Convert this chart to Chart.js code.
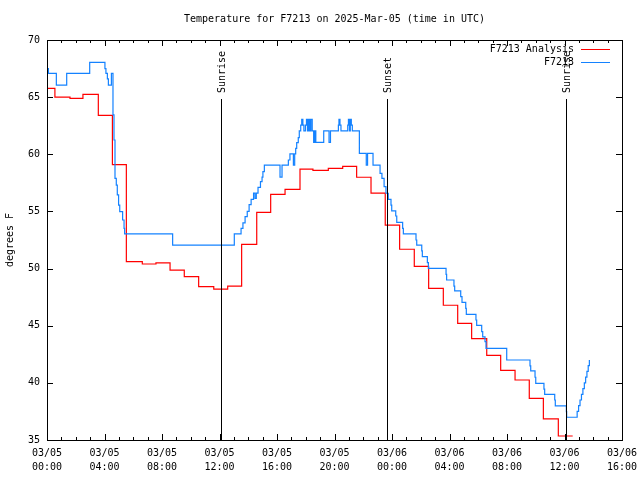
<!DOCTYPE html>
<html>
<head>
<meta charset="utf-8">
<title>Temperature for F7213</title>
<script src="https://cdn.jsdelivr.net/npm/chart.js@4.4.1/dist/chart.umd.min.js"></script>
<style>
  html, body { margin: 0; padding: 0; background: #fff; }
  canvas { display: block; }
</style>
</head>
<body>
<canvas id="chart" width="640" height="480"></canvas>
<script>
const titleText = 'Temperature for F7213 on 2025-Mar-05 (time in UTC)';
const seriesLabels = ['F7213 Analysis', 'F7213'];

// hours since 03/05 00:00 UTC
const analysisHours = [0, 0.55, 1.6, 2.5, 3.57, 4.55, 5.52, 6.63, 7.58, 8.56, 9.55, 10.55, 11.6, 12.57,
  13.54, 14.59, 15.56, 16.56, 17.6, 18.5, 19.57, 20.57, 21.54, 22.54, 23.53, 24.53, 25.55, 26.55,
  27.57, 28.57, 29.54, 30.59, 31.56, 32.56, 33.55, 34.53, 35.57, 36.57];
const analysisTemps = [65.77, 65.0, 64.9, 65.25, 63.4, 59.1, 50.6, 50.4, 50.49, 49.87, 49.3, 48.42, 48.2, 48.47,
  52.12, 54.92, 56.5, 56.93, 58.7, 58.6, 58.77, 58.95, 57.99, 56.61, 53.81, 51.69, 50.2, 48.27,
  46.79, 45.21, 43.87, 42.41, 41.1, 40.25, 38.65, 36.84, 35.35, 35.35];

const obsHours = [0, 0.1, 0.65, 1.37, 2.97, 4.03, 4.1, 4.2, 4.27, 4.48, 4.59, 4.66, 4.73, 4.82, 4.89, 4.98,
  5.06, 5.26, 5.36, 5.4, 8.74, 13.03, 13.5, 13.63, 13.78, 13.93, 14.06, 14.2, 14.37, 14.47, 14.56,
  14.68, 14.85, 14.96, 15.02, 15.12, 16.21, 16.35, 16.79, 16.9, 17.14, 17.23, 17.3, 17.37, 17.48,
  17.55, 17.65, 17.72, 17.8, 17.87, 17.98, 18.05, 18.12, 18.2, 18.28, 18.36, 18.45, 18.55, 18.62,
  18.7, 19.25, 19.62, 19.72, 20.27, 20.31, 20.38, 20.45, 20.92, 20.97, 21.04, 21.1, 21.17, 21.24,
  21.73, 22.21, 22.3, 22.68, 23.17, 23.3, 23.45, 23.58, 23.74, 23.93, 23.98, 24.26, 24.33, 24.74,
  24.79, 25.67, 25.72, 26.07, 26.11, 26.46, 26.53, 27.76, 27.8, 28.31, 28.36, 28.78, 28.87, 29.13,
  29.17, 29.84, 29.89, 30.24, 30.31, 30.47, 30.54, 31.98, 33.6, 33.65, 33.95, 34.0, 34.57, 34.62,
  35.32, 35.36, 36.13, 36.15, 36.78, 36.88, 36.98, 37.08, 37.18, 37.28, 37.38, 37.47, 37.56, 37.65, 37.73];
const obsTemps = [67.5, 67.08, 66.06, 67.08, 68.05, 67.5, 67.08, 66.6, 66.06, 67.08, 63.44, 61.25, 57.9, 57.3, 56.44, 55.56,
  54.98, 54.25, 53.52, 53.03, 52.06, 53.03, 53.52, 54.0, 54.55, 55.0, 55.6, 56.06, 56.6, 56.15, 56.6,
  57.1, 57.6, 58.0, 58.48, 59.06, 58.0, 59.06, 59.5, 60.03, 59.06, 60.03, 60.52, 61.02, 61.46,
  62.04, 62.56, 63.06, 62.56, 62.04, 62.56, 63.06, 62.04, 63.06, 62.04, 63.06, 62.04, 61.05, 62.04,
  61.05, 62.04, 61.05, 62.04, 62.56, 63.06, 62.56, 62.04, 62.56, 63.06, 62.04, 63.06, 62.56, 62.04,
  60.08, 59.06, 60.08, 59.06, 58.33, 57.9, 57.17, 56.59, 56.06, 55.56, 55.04, 54.6, 54.05, 53.52,
  53.03, 52.5, 52.06, 51.54, 51.04, 50.52, 50.02, 49.5, 49.0, 48.47, 48.04, 47.54, 47.05, 46.52,
  46.0, 45.5, 45.03, 44.48, 44.02, 43.6, 43.02, 42.0, 41.48, 41.04, 40.49, 39.96, 39.46, 39.0,
  38.5, 37.98, 37.48, 36.99, 36.99, 37.5, 38.0, 38.5, 39.0, 39.5, 40.0, 40.5, 41.0, 41.5, 42.0];

const eventLabels = ['Sunrise', 'Sunset', 'Sunrise'];
const eventHours = [12.1, 23.67, 36.13];

const xDayLabels = ['03/05', '03/05', '03/05', '03/05', '03/05', '03/05', '03/06', '03/06', '03/06', '03/06', '03/06'];
const xTimeLabels = ['00:00', '04:00', '08:00', '12:00', '16:00', '20:00', '00:00', '04:00', '08:00', '12:00', '16:00'];

const FAMILY = '"DejaVu Sans Mono", "Liberation Mono", monospace';
const FONT = '10px ' + FAMILY;

function toPoints(xs, ys) {
  return xs.map((h, i) => ({ x: h, y: ys[i] }));
}

const gnuplotDecor = {
  id: 'gnuplotDecor',
  afterDatasetsDraw(chart) {
    const { ctx, chartArea: a, scales: { x, y } } = chart;
    ctx.save();
    ctx.strokeStyle = '#000';
    ctx.fillStyle = '#000';
    ctx.lineWidth = 1;
    ctx.font = FONT;

    // sunrise / sunset markers
    eventHours.forEach((h, i) => {
      const px = Math.round(x.getPixelForValue(h)) + 0.5;
      ctx.beginPath();
      ctx.moveTo(px, a.top + 59);
      ctx.lineTo(px, a.bottom);
      ctx.stroke();
      ctx.save();
      ctx.translate(px + 1, a.top + 53);
      ctx.rotate(-Math.PI / 2);
      ctx.textAlign = 'left';
      ctx.textBaseline = 'middle';
      ctx.fillText(eventLabels[i], 0, 0);
      ctx.restore();
    });

    // border
    ctx.strokeRect(a.left + 0.5, a.top + 0.5, a.right - a.left, a.bottom - a.top);

    // inward ticks, mirrored
    ctx.beginPath();
    x.ticks.forEach(t => {
      const px = Math.round(x.getPixelForValue(t.value)) + 0.5;
      const len = t.value % 4 === 0 ? 6 : 3;
      ctx.moveTo(px, a.bottom); ctx.lineTo(px, a.bottom - len);
      ctx.moveTo(px, a.top); ctx.lineTo(px, a.top + len);
    });
    y.ticks.forEach(t => {
      const py = Math.round(y.getPixelForValue(t.value)) + 0.5;
      ctx.moveTo(a.left, py); ctx.lineTo(a.left + 6, py);
      ctx.moveTo(a.right, py); ctx.lineTo(a.right - 6, py);
    });
    ctx.stroke();
    ctx.restore();
  },
  afterDraw(chart) {
    const { ctx, chartArea: a } = chart;
    ctx.save();
    ctx.font = FONT;
    ctx.fillStyle = '#000';
    ctx.textBaseline = 'middle';
    ctx.textAlign = 'center';
    ctx.fillText(titleText, (a.left + a.right) / 2, 19);

    // legend, gnuplot style (key at top right)
    chart.data.datasets.forEach((ds, i) => {
      const ly = a.top + 9.5 + i * 13;
      ctx.textAlign = 'right';
      ctx.fillStyle = '#000';
      ctx.fillText(ds.label, a.right - 48, ly);
      ctx.strokeStyle = ds.borderColor;
      ctx.lineWidth = 1;
      ctx.beginPath();
      ctx.moveTo(a.right - 41, Math.round(ly) - 0.5);
      ctx.lineTo(a.right - 12, Math.round(ly) - 0.5);
      ctx.stroke();
    });
    ctx.restore();
  }
};

new Chart(document.getElementById('chart'), {
  type: 'line',
  data: {
    datasets: [
      {
        label: seriesLabels[0],
        data: toPoints(analysisHours, analysisTemps),
        borderColor: '#ff0000',
        borderWidth: 1.2,
        pointRadius: 0,
        stepped: true,
        fill: false,
        order: 1
      },
      {
        label: seriesLabels[1],
        data: toPoints(obsHours, obsTemps),
        borderColor: 'rgb(20,130,255)',
        borderWidth: 1.2,
        pointRadius: 0,
        stepped: true,
        fill: false,
        order: 0
      }
    ]
  },
  options: {
    responsive: false,
    animation: false,
    layout: { padding: { top: 40, right: 18, left: 0, bottom: 0 } },
    plugins: {
      legend: { display: false },
      title: { display: false },
      tooltip: { enabled: false }
    },
    scales: {
      x: {
        type: 'linear',
        min: 0,
        max: 40,
        grid: { display: false, drawTicks: false },
        border: { display: false },
        ticks: {
          stepSize: 1,
          autoSkip: false,
          maxRotation: 0,
          minRotation: 0,
          padding: 6,
          color: '#000',
          font: { family: FAMILY, size: 10, lineHeight: 1.45 },
          callback: v => (v % 4 === 0 ? [xDayLabels[v / 4], xTimeLabels[v / 4]] : '')
        },
        afterFit: s => { s.height = 40; s.paddingLeft = 0; s.paddingRight = 0; }
      },
      y: {
        min: 35,
        max: 70,
        grid: { display: false, drawTicks: false },
        border: { display: false },
        ticks: {
          stepSize: 5,
          padding: 7,
          color: '#000',
          font: { family: FAMILY, size: 10 }
        },
        title: {
          display: true,
          text: 'degrees F',
          color: '#000',
          font: { family: FAMILY, size: 10 },
          padding: { top: 4, bottom: 0 }
        },
        afterFit: s => { s.width = 47; }
      }
    }
  },
  plugins: [gnuplotDecor]
});
</script>
</body>
</html>
